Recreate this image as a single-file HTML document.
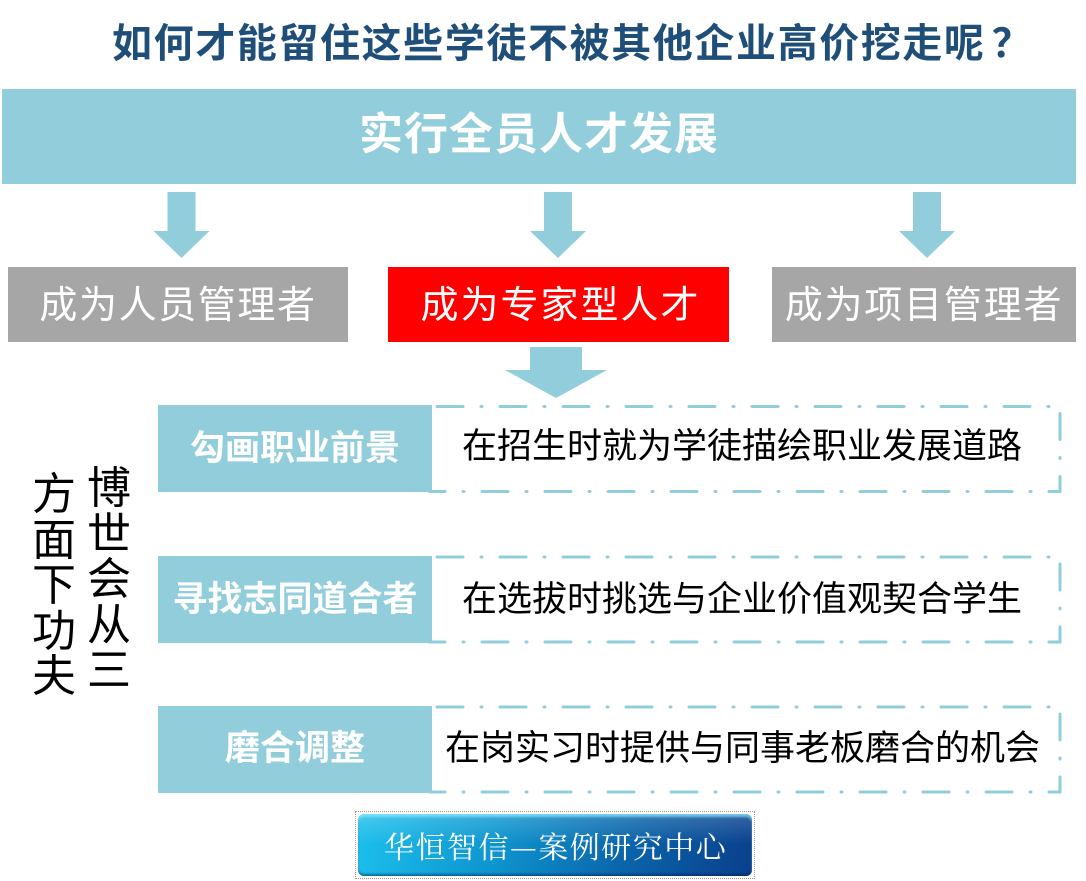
<!DOCTYPE html>
<html>
<head>
<meta charset="utf-8">
<style>
  html,body{margin:0;padding:0;background:#fff;}
  body{width:1086px;height:881px;position:relative;overflow:hidden;
       font-family:"Liberation Sans","Noto Sans CJK SC",sans-serif;}
  .abs{position:absolute;}
  .t{position:absolute;white-space:nowrap;line-height:1;}
  .box{position:absolute;}
  .blue{background:#92CDDC;}
  .gray{background:#A6A6A6;}
  .red{background:#FF0000;}
  .col{position:absolute;width:44px;font-size:44px;line-height:45.5px;color:#000;text-align:center;}
</style>
</head>
<body>

<!-- Title -->
<div class="t" style="left:112px;top:20px;font-size:40px;font-weight:bold;color:#1F4E79;letter-spacing:1.6px;">如何才能留住这些学徒不被其他企业高价挖走呢<span style="font-family:'Noto Sans CJK SC',sans-serif;margin-left:6px;">？</span></div>

<!-- Banner -->
<div class="box blue" style="left:2px;top:89px;width:1074px;height:95px;"></div>
<div class="t" style="left:0;width:1078px;text-align:center;top:113px;font-size:44px;font-weight:bold;color:#fff;letter-spacing:1px;">实行全员人才发展</div>

<!-- Arrows and dashed frames -->
<svg class="abs" style="left:0;top:0;" width="1086" height="881" viewBox="0 0 1086 881">
  <g fill="#92CDDC">
    <polygon points="167.5,192 195.5,192 195.5,231 209.5,231 181.5,258 153.5,231 167.5,231"/>
    <polygon points="544,192 572,192 572,231 586,231 558,258 530,231 544,231"/>
    <polygon points="913,192 941,192 941,231 955,231 927,258 899,231 913,231"/>
    <polygon points="530,347 582,347 582,370 607,370 556,398 505,370 530,370"/>
  </g>
  <g fill="none" stroke="#92CDDC" stroke-width="3" stroke-linecap="round" stroke-dasharray="26 18 1 18" stroke-dashoffset="56">
    <rect x="430" y="406.5" width="630" height="85"/>
    <rect x="430" y="557" width="630" height="85"/>
    <rect x="430" y="707" width="630" height="85"/>
  </g>
</svg>

<!-- Row of role boxes -->
<div class="box gray" style="left:8px;top:267px;width:340px;height:75px;"></div>
<div class="t" style="left:8px;width:340px;text-align:center;top:286.5px;font-size:38px;color:#fff;letter-spacing:1.6px;">成为人员管理者</div>

<div class="box red" style="left:388px;top:267px;width:341px;height:75px;"></div>
<div class="t" style="left:390px;width:341px;text-align:center;top:286.5px;font-size:38px;color:#fff;letter-spacing:2px;">成为专家型人才</div>

<div class="box gray" style="left:772px;top:267px;width:304px;height:75px;"></div>
<div class="t" style="left:772px;width:304px;text-align:center;top:286.5px;font-size:38px;color:#fff;letter-spacing:1.8px;">成为项目管理者</div>

<!-- Left solid boxes -->
<div class="box blue" style="left:158px;top:405px;width:274px;height:87px;"></div>
<div class="t" style="left:158px;width:274px;text-align:center;top:430.5px;font-size:35px;font-weight:bold;color:#fff;">勾画职业前景</div>

<div class="box blue" style="left:158px;top:556px;width:274px;height:87px;"></div>
<div class="t" style="left:158px;width:274px;text-align:center;top:581.5px;font-size:35px;font-weight:bold;color:#fff;">寻找志同道合者</div>

<div class="box blue" style="left:158px;top:706px;width:274px;height:87px;"></div>
<div class="t" style="left:158px;width:274px;text-align:center;top:730.5px;font-size:35px;font-weight:bold;color:#fff;">磨合调整</div>

<!-- Dashed box texts -->
<div class="t" style="left:462px;top:429px;font-size:35px;color:#000;">在招生时就为学徒描绘职业发展道路</div>
<div class="t" style="left:462px;top:581.5px;font-size:35px;color:#000;">在选拔时挑选与企业价值观契合学生</div>
<div class="t" style="left:445px;top:730.5px;font-size:35px;color:#000;">在岗实习时提供与同事老板磨合的机会</div>

<!-- Vertical left text -->
<div class="col" style="left:87px;top:466px;">博<br>世<br>会<br>从<br>三</div>
<div class="col" style="left:32px;top:472px;">方<br>面<br>下<br>功<br>夫</div>

<!-- Bottom badge -->
<div class="abs" style="left:355px;top:811px;width:398px;height:66px;border:1px dotted #9a9a9a;"></div>
<div class="abs" style="left:358px;top:814px;width:394px;height:62px;border-radius:6px;
     background:linear-gradient(100deg,#1cc0ec 0%,#0e95cf 35%,#0a62a8 70%,#0a3f8c 100%);
     box-shadow:inset 0 3px 2px rgba(120,230,255,0.7), inset 0 -2px 2px rgba(0,30,80,0.5);"></div>
<div class="abs" style="left:358px;top:814px;width:394px;height:30px;border-radius:6px 6px 0 0;
     background:linear-gradient(180deg,rgba(255,255,255,0.18),rgba(255,255,255,0));"></div>
<div class="t" style="left:384px;top:830px;font-size:30px;color:#fff;letter-spacing:1.5px;font-family:'Noto Serif CJK SC','Liberation Serif',serif;">华恒智信—案例研究中心</div>

</body>
</html>
